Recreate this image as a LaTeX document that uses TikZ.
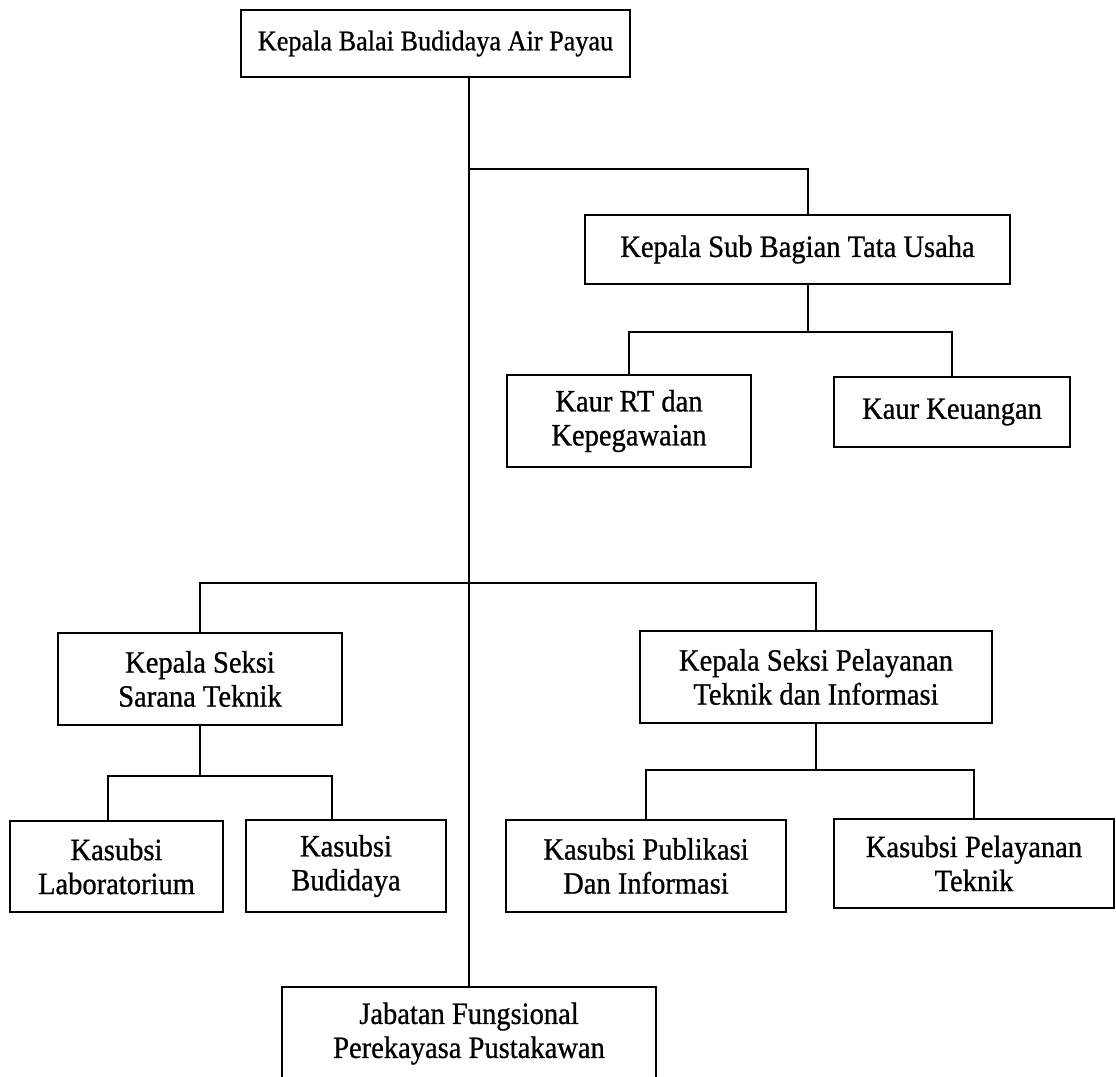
\documentclass[tikz,border=0pt]{standalone}
\usepackage{fontspec}
\setmainfont{Liberation Serif}[FakeStretch=0.92,FakeBold=0.8]
\begin{document}
\begin{tikzpicture}[x=1pt,y=-1pt,
  box/.style={draw, line width=2pt, align=center, inner sep=0pt, font=\fontsize{31}{34}\selectfont},
  conn/.style={line width=2pt}]
\useasboundingbox (0,0) rectangle (1116,1076);
\fill[white] (0,0) rectangle (1116,1076);

\node[box, minimum width=389, minimum height=67, font=\fontsize{28.5}{34}\selectfont] (top) at (435.5,43.5) {Kepala Balai Budidaya Air Payau};
\node[box, minimum width=425, minimum height=69] (sub) at (797.5,249.5) {Kepala Sub Bagian Tata Usaha};
\node[box, minimum width=244, minimum height=92] (kaur1) at (629,421) {Kaur RT dan\\Kepegawaian};
\node[box, minimum width=236, minimum height=70] (kaur2) at (952,412) {Kaur Keuangan};
\node[box, minimum width=284, minimum height=92] (sarana) at (200,679) {Kepala Seksi\\Sarana Teknik};
\node[box, minimum width=352, minimum height=92] (pel) at (816,677) {Kepala Seksi Pelayanan\\Teknik dan Informasi};
\node[box, minimum width=213, minimum height=91] (lab) at (116.5,866.5) {Kasubsi\\Laboratorium};
\node[box, minimum width=200, minimum height=92] (bud) at (346,866) {Kasubsi\\Budidaya};
\node[box, minimum width=280, minimum height=92] (publ) at (646,866) {Kasubsi Publikasi\\Dan Informasi};
\node[box, minimum width=280, minimum height=89] (pelt) at (974,863.5) {Kasubsi Pelayanan\\Teknik};
\node[box, minimum width=374, minimum height=93] (jab) at (469,1033.5) {Jabatan Fungsional\\Perekayasa Pustakawan};

\coordinate (aJ) at (469,169);
\coordinate (aX) at (808,169);
\coordinate (kJ) at (808,332);
\coordinate (mJ) at (469,583);
\coordinate (sJ) at (200,776);
\coordinate (labX) at (108,0);
\coordinate (budX) at (332,0);
\coordinate (pJ) at (816,770);

\draw[conn] (top.south -| aJ) -- (jab.north -| aJ);
\draw[conn] (aJ) -- (aX) -- (sub.north -| aX);
\draw[conn] (sub.south -| kJ) -- (kJ);
\draw[conn] (kaur1.north) |- (kJ) -| (kaur2.north);
\draw[conn] (sarana.north) |- (mJ) -| (pel.north);
\draw[conn] (sarana.south) -- (sJ);
\draw[conn] (lab.north -| labX) |- (sJ) -| (bud.north -| budX);
\draw[conn] (pel.south) -- (pJ);
\draw[conn] (publ.north) |- (pJ) -| (pelt.north);
\end{tikzpicture}
\end{document}
